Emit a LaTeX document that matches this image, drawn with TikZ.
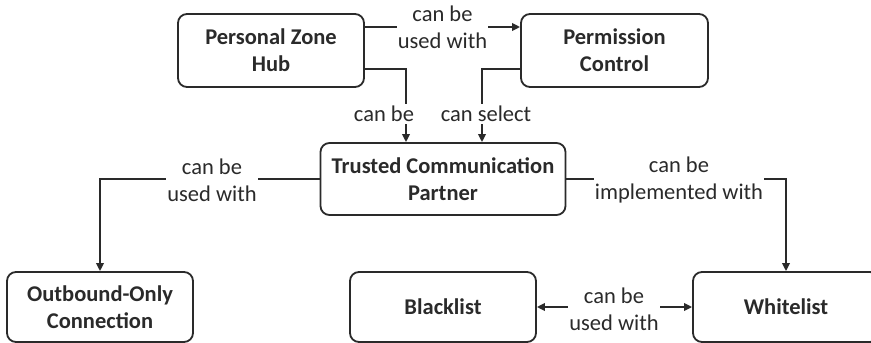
\documentclass[tikz,border=0pt]{standalone}
\usepackage{fontspec}
\setmainfont{Carlito}
\usetikzlibrary{arrows.meta,calc}
\definecolor{ink}{HTML}{2A2A2A}
\begin{document}
\begin{tikzpicture}[x=1pt,y=-1pt,
  box/.style={draw=ink, line width=1.8pt, rounded corners=9pt, minimum width=186pt, minimum height=73pt, align=center, font=\fontsize{22.5}{27}\selectfont\bfseries, text=ink, inner sep=0pt},
  conn/.style={draw=ink, line width=1.8pt, -{Triangle[length=8pt,width=7.5pt]}},
  lbl/.style={fill=white, inner xsep=1pt, inner ysep=2pt, align=center, font=\fontsize{22.5}{27}\selectfont, text=ink}]
\clip (0,0) rectangle (871,343);
\fill[white] (0,0) rectangle (871,343);
% boxes
\node[box] (pzh) at (271,50.5) {Personal Zone\\Hub};
\node[box, minimum width=187pt] (pc) at (614.5,50.5) {Permission\\Control};
\node[box, minimum width=245pt, minimum height=72pt] (tcp) at (443,179) {Trusted Communication\\Partner};
\node[box, minimum height=70pt] (obc) at (100,307) {Outbound-Only\\Connection};
\node[box, minimum height=70pt] (bl) at (443,307) {Blacklist};
\node[box, minimum height=70pt] (wl) at (786,307) {Whitelist};
% connectors
\draw[conn] ([yshift=23.5pt]pzh.east) -- ([yshift=23.5pt]pc.west)
  node[lbl, midway] {can be\\used with};
\draw[conn] ([yshift=-18.5pt]pzh.east) -| ([xshift=-37pt]tcp.north);
\node[lbl] at (384,114) {can be};
\draw[conn] ([yshift=-18.5pt]pc.west) -| ([xshift=39pt]tcp.north);
\node[lbl] at (486,114) {can select};
\draw[conn] (tcp.west) -| (obc.north);
\node[lbl] at (212,180) {can be\\used with};
\draw[conn] (tcp.east) -| (wl.north);
\node[lbl] at (679,180) {can be\\implemented with};
\draw[conn, {Triangle[length=8pt,width=7.5pt]}-{Triangle[length=8pt,width=7.5pt]}] (bl.east) -- (wl.west);
\node[lbl] at (614,309) {can be\\used with};
\end{tikzpicture}
\end{document}
